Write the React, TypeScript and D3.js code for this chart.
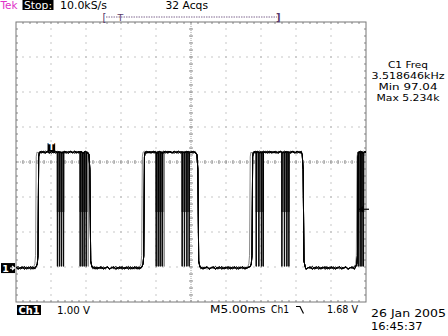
import React from "react";
import * as d3 from "d3";

const W = 448;
const H = 336;

// Scope settings
const hDivs = 10;
const vDivs = 8;
const timePerDivMs = 5;
const voltsPerDiv = 1.0;
const groundOffsetDiv = -3.03;
const triggerLevelV = 1.68;
const triggerTimeMs = 5.05;

const highLevelV = 3.31;
const lowLevelV = 0.0;

// Burst edges (ms)
const burstRiseEarly = [2.79, 17.95, 33.36, 48.62];
const burstRiseLate = [3.14, 18.25, 33.71, 48.78];
const burstFall = [10.57, 26.0, 41.04, 53];
// Dropout pulses inside each burst (ms), one per acquisition trace
const clusterPulses: number[][][] = [
  [[5.9, 6.19, 6.47, 6.76], [9.14, 9.43, 9.71, 10.0, 10.29]],
  [[20.0, 20.29, 20.57, 20.86, 21.14], [23.71, 24.04, 24.39, 24.71]],
  [[34.29, 34.67, 35.04, 35.29], [37.96, 38.33, 38.67, 38.96]],
  [[48.86, 49.14, 49.39, 49.61]],
];
// hand-read noise offsets (V)
const noiseLow = [0.02, -0.03, 0.01, 0.04, -0.02, 0.0, 0.03, -0.04, 0.02, -0.01, 0.05, -0.03, 0.0, 0.02, -0.02, 0.03, -0.01, 0.04, -0.03, 0.01];
const noiseHigh = [0.01, -0.02, 0.03, 0.0, -0.03, 0.02, -0.01, 0.03, -0.02, 0.01, 0.0, -0.03, 0.02, 0.01, -0.02];

const traceColors = ["#000", "#000", "#000", "#000", "#8a8a8a"];

const topTexts = { brand: "Tek", state: "Stop:", rate: "10.0kS/s", acqs: "32 Acqs" };
const measLines = ["C1 Freq", "3.518646kHz", "Min 97.04", "Max 5.234k"];
const measWidths = [40, 73, 59, 63];
const bottomLeft = { ch: "Ch1", scale: "1.00 V" };
const bottomMid = { time: "M5.00ms", src: "Ch1", level: "1.68 V" };
const dateLines = ["26 Jan 2005", "16:45:37"];

const G = { left: 16, top: 22, right: 366, bottom: 302 };
const FONT = "'DejaVu Sans', Verdana, sans-serif";
const FS = 10.8;

const x = d3.scaleLinear().domain([0, hDivs * timePerDivMs]).range([G.left, G.right]);
const yDiv = d3.scaleLinear().domain([-vDivs / 2, vDivs / 2]).range([G.bottom, G.top]);
const yV = (v: number) => yDiv(v / voltsPerDiv + groundOffsetDiv);

function buildTrace(k: number): [number, number][] {
  const pts: [number, number][] = [];
  let ni = k * 3;
  let nh = k * 2;
  let prevEnd = 0;
  const rises = k === traceColors.length - 1 ? burstRiseEarly : burstRiseLate;
  for (let b = 0; b < rises.length; b++) {
    const rise = rises[b];
    for (let t = prevEnd; t < rise - 0.3; t += 0.3) {
      pts.push([t, lowLevelV + noiseLow[ni++ % noiseLow.length]]);
    }
    pts.push([rise - 0.25, 0.04]);
    pts.push([rise - 0.1, 0.12]);
    pts.push([rise, 0.35]);
    pts.push([rise + 0.1, highLevelV * 0.96]);
    pts.push([rise + 0.2, highLevelV]);
    const fall = burstFall[b];
    const pulses: number[] = [];
    clusterPulses[b].forEach((c) => {
      if (c[k] !== undefined) pulses.push(c[k]);
    });
    const highPts: [number, number][] = [];
    for (let t = rise + 0.45; t < fall - 0.2; t += 0.3) {
      if (pulses.some((p) => t > p - 0.06 && t < p + 0.12)) continue;
      highPts.push([t, highLevelV + noiseHigh[nh++ % noiseHigh.length]]);
    }
    pulses.forEach((p) => {
      highPts.push([p - 0.01, highLevelV]);
      highPts.push([p, lowLevelV + 0.05]);
      highPts.push([p + 0.05, lowLevelV + 0.05]);
      highPts.push([p + 0.07, highLevelV]);
    });
    highPts.sort((a, c) => a[0] - c[0]);
    pts.push(...highPts);
    pts.push([fall - 0.15, highLevelV * 0.98]);
    pts.push([fall - 0.02, highLevelV * 0.85]);
    pts.push([fall + 0.1, 0.2]);
    pts.push([fall + 0.28, 0.03]);
    prevEnd = fall + 0.4;
  }
  for (let t = prevEnd; t <= 50; t += 0.3) {
    pts.push([t, lowLevelV + noiseLow[ni++ % noiseLow.length]]);
  }
  return pts;
}

const line = d3
  .line<[number, number]>()
  .x((d) => x(d[0]))
  .y((d) => yV(d[1]));

function T(props: { x: number; y: number; w?: number; fs?: number; fill?: string; bold?: boolean; children: string }) {
  return (
    <text
      x={props.x}
      y={props.y}
      fontSize={props.fs || FS}
      fill={props.fill || "#000"}
      fontWeight={props.bold ? "bold" : "normal"}
      textLength={props.w}
      lengthAdjust={props.w ? "spacingAndGlyphs" : undefined}
    >
      {props.children}
    </text>
  );
}

export default function App() {
  const traces = traceColors.map((_, k) => buildTrace(k));

  const minorX = d3.range(1, hDivs * 5).map((i) => G.left + ((G.right - G.left) / (hDivs * 5)) * i);
  const minorY = d3.range(1, vDivs * 5).map((j) => G.top + ((G.bottom - G.top) / (vDivs * 5)) * j);
  const majorX = d3.range(1, hDivs).filter((i) => i !== hDivs / 2).map((i) => G.left + ((G.right - G.left) / hDivs) * i);
  const majorY = d3.range(1, vDivs).filter((j) => j !== vDivs / 2).map((j) => G.top + ((G.bottom - G.top) / vDivs) * j);
  const cx = (G.left + G.right) / 2;
  const cy = (G.top + G.bottom) / 2;

  const bandTop = yV(highLevelV);
  const bandBot = yV(1.6);

  return (
    <svg
      width={W}
      height={H}
      viewBox={`0 0 ${W} ${H}`}
      style={{ position: "fixed", left: 0, top: 0, background: "#fff" }}
      fontFamily={FONT}
    >
      <defs>
        <clipPath id="gclip">
          <rect x={G.left} y={G.top} width={G.right - G.left} height={G.bottom - G.top} />
        </clipPath>
      </defs>
      <rect width={W} height={H} fill="#fff" />

      {/* grid dots */}
      {majorX.map((gx) =>
        minorY.map((gy) => <rect key={`vx${gx}-${gy}`} x={gx - 0.5} y={gy - 0.5} width={1} height={1} fill="#909090" />)
      )}
      {majorY.map((gy) =>
        minorX.map((gx) => <rect key={`hy${gy}-${gx}`} x={gx - 0.5} y={gy - 0.5} width={1} height={1} fill="#909090" />)
      )}
      {/* center cross */}
      <line x1={G.left} x2={G.right} y1={cy} y2={cy} stroke="#a0a0a0" strokeDasharray="1,1" />
      <line x1={cx} x2={cx} y1={G.top} y2={G.bottom} stroke="#a0a0a0" strokeDasharray="1,1" />
      {minorX.map((gx) => (
        <line key={`cxt${gx}`} x1={gx} x2={gx} y1={cy - 2} y2={cy + 2} stroke="#888" />
      ))}
      {minorY.map((gy) => (
        <line key={`cyt${gy}`} x1={cx - 2} x2={cx + 2} y1={gy} y2={gy} stroke="#888" />
      ))}
      {/* border ticks */}
      {minorX.map((gx) => (
        <g key={`bt${gx}`} stroke="#888">
          <line x1={gx} x2={gx} y1={G.top} y2={G.top + 2} />
          <line x1={gx} x2={gx} y1={G.bottom - 2} y2={G.bottom} />
        </g>
      ))}
      {minorY.map((gy) => (
        <g key={`bl${gy}`} stroke="#888">
          <line x1={G.left} x2={G.left + 2} y1={gy} y2={gy} />
          <line x1={G.right - 2} x2={G.right} y1={gy} y2={gy} />
        </g>
      ))}
      <rect x={G.left} y={G.top} width={G.right - G.left} height={G.bottom - G.top} fill="none" stroke="#777" />

      {/* waveform */}
      <g clipPath="url(#gclip)">
        {clusterPulses.map((bc, b) =>
          bc.map((c, ci) => {
            const x0 = x(d3.min(c) as number);
            const x1 = x(d3.max(c) as number);
            return (
              <rect
                key={`band${b}-${ci}`}
                x={x0 - 0.5}
                y={bandTop}
                width={x1 - x0 + 1.5}
                height={bandBot - bandTop}
                fill="#6e6e6e"
              />
            );
          })
        )}
        {traces
          .map((tr, k) => ({ tr, k }))
          .reverse()
          .map(({ tr, k }) => (
            <path key={`tr${k}`} d={line(tr) || ""} fill="none" stroke={traceColors[k]} strokeWidth={1} />
          ))}
      </g>

      {/* trigger position marker */}
      <rect x={x(triggerTimeMs) - 3.8} y={yV(highLevelV) - 9} width={7.6} height={8.5} fill="#000" />
      <text x={x(triggerTimeMs)} y={yV(highLevelV) - 1.8} fontSize={8.5} fontWeight="bold" fill="#fff" textAnchor="middle">
        T
      </text>
      {/* ground marker */}
      <rect x={1} y={yV(0) - 5} width={14} height={10} fill="#000" />
      <text x={5.5} y={yV(0) + 3.8} fontSize={9.5} fontWeight="bold" fill="#fff" textAnchor="middle">
        1
      </text>
      <path d={`M10,${yV(0)} h4 M12,${yV(0) - 2} l2.5,2 l-2.5,2`} stroke="#fff" fill="none" strokeWidth={1.2} />
      {/* trigger level marker */}
      <path d={`M358.5,${yV(triggerLevelV)} l5,-3.5 v7 z`} fill="#000" />
      <line x1={363} x2={369} y1={yV(triggerLevelV)} y2={yV(triggerLevelV)} stroke="#000" strokeWidth={1.2} />

      {/* top status */}
      <T x={0.5} y={9} w={17} fill="#e030c8">{topTexts.brand}</T>
      <rect x={22.5} y={0} width={31} height={10} fill="#000" />
      <T x={24} y={8.8} w={28} fill="#fff">{topTexts.state}</T>
      <T x={60} y={9} w={47}>{topTexts.rate}</T>
      <T x={165.5} y={9} w={42.5}>{topTexts.acqs}</T>
      {/* record indicator */}
      <line x1={106} x2={277} y1={17} y2={17} stroke="#806890" strokeDasharray="1.5,1" />
      <text x={102.5} y={21} fontSize={10} fill="#5a3a6a">[</text>
      <text x={276} y={21} fontSize={10} fontWeight="bold" fill="#5a3a6a">]</text>
      <text x={117.5} y={21} fontSize={9.5} fill="#5a3a6a">T</text>

      {/* measurement readout */}
      {measLines.map((s, i) => (
        <T key={s} x={408 - measWidths[i] / 2} y={67.5 + i * 11.1} w={measWidths[i]} fs={9.5}>
          {s}
        </T>
      ))}

      {/* bottom status */}
      <rect x={17} y={305} width={24} height={10} fill="#000" />
      <T x={18.5} y={313.8} w={21} bold fill="#fff">{bottomLeft.ch}</T>
      <T x={57} y={313.5} w={33}>{bottomLeft.scale}</T>
      <T x={210} y={313} w={55.5}>{bottomMid.time}</T>
      <T x={271} y={313} w={18}>{bottomMid.src}</T>
      <path d="M296,306.5 h4 l3.5,7" stroke="#000" fill="none" strokeWidth={1.2} />
      <T x={327} y={313} w={31}>{bottomMid.level}</T>
      <T x={371} y={316.5} w={75} fs={10.2}>{dateLines[0]}</T>
      <T x={371} y={329.5} w={51.5} fs={10.2}>{dateLines[1]}</T>
    </svg>
  );
}
